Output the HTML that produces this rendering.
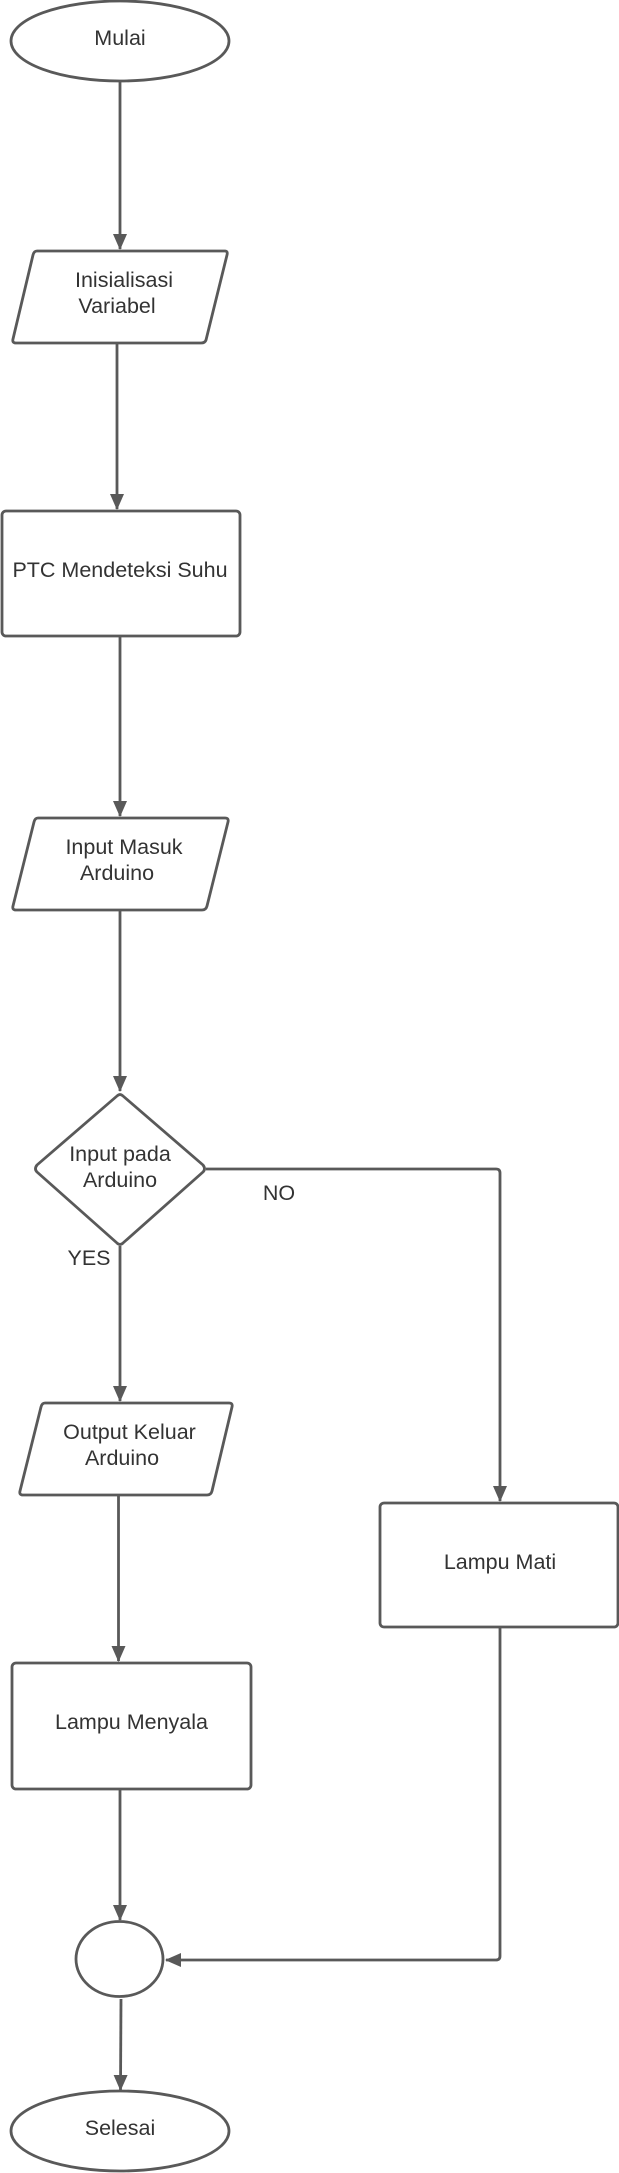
<!DOCTYPE html>
<html><head><meta charset="utf-8"><style>
html,body{margin:0;padding:0;background:#fff}
svg{display:block}
text{font-family:"Liberation Sans",sans-serif;font-size:21.5px;fill:#333;text-anchor:middle;dominant-baseline:central}
</style></head><body>
<svg width="619" height="2173" viewBox="0 0 619 2173" xmlns="http://www.w3.org/2000/svg">
<defs><marker id="a" markerWidth="16" markerHeight="16" refX="15" refY="7" orient="auto" markerUnits="userSpaceOnUse"><path d="M0,0 L16,7 L0,14 z" fill="#595959"/></marker></defs>
<g fill="none" stroke="#595959" stroke-width="2.8" stroke-linejoin="round">
<ellipse cx="120" cy="41" rx="109" ry="40" fill="#fff"/>
<path d="M37,251 L225,251 Q228,251 227,255 L206,340 Q205,343 201,343 L16,343 Q12,343 13,339 L33,255 Q34,251 37,251 Z" fill="#fff"/>
<rect x="2" y="511" width="238" height="125" rx="4" fill="#fff"/>
<path d="M38,818 L225,818 Q229,818 228,822 L207,906 Q206,910 202,910 L16,910 Q12,910 13,906 L34,822 Q35,818 38,818 Z" fill="#fff"/>
<path d="M117,1096 Q120,1093 123,1096 L203,1165 Q206,1169 203,1172 L123,1243 Q120,1246 117,1243 L37,1172 Q34,1169 37,1165 Z" fill="#fff"/>
<path d="M45,1403 L229,1403 Q233,1403 232,1407 L212,1491 Q211,1495 207,1495 L23,1495 Q19,1495 20,1491 L41,1407 Q42,1403 45,1403 Z" fill="#fff"/>
<rect x="380" y="1503" width="238" height="124" rx="4" fill="#fff"/>
<rect x="12" y="1663" width="239" height="126" rx="4" fill="#fff"/>
<ellipse cx="119.5" cy="1959" rx="43.5" ry="37.5" fill="#fff"/>
<ellipse cx="120" cy="2131" rx="109" ry="40" fill="#fff"/>
<line x1="120" y1="82" x2="120" y2="249" marker-end="url(#a)"/>
<line x1="117" y1="343" x2="117" y2="509" marker-end="url(#a)"/>
<line x1="120" y1="636" x2="120" y2="816" marker-end="url(#a)"/>
<line x1="120" y1="910" x2="120" y2="1091" marker-end="url(#a)"/>
<line x1="120" y1="1246" x2="120" y2="1401" marker-end="url(#a)"/>
<path d="M206,1169 L496,1169 Q500,1169 500,1173 L500,1501" marker-end="url(#a)"/>
<line x1="118.5" y1="1495" x2="118.5" y2="1661" marker-end="url(#a)"/>
<line x1="120" y1="1789" x2="120" y2="1920" marker-end="url(#a)"/>
<path d="M500,1627 L500,1956 Q500,1960 496,1960 L166,1960" marker-end="url(#a)"/>
<line x1="121" y1="1999" x2="120.5" y2="2090" marker-end="url(#a)"/>
</g>
<text x="120" y="38">Mulai</text>
<text x="124" y="280">Inisialisasi</text>
<text x="117" y="306">Variabel</text>
<text x="120" y="570">PTC Mendeteksi Suhu</text>
<text x="124" y="847">Input Masuk</text>
<text x="117" y="873">Arduino</text>
<text x="120" y="1154">Input pada</text>
<text x="120" y="1180">Arduino</text>
<text x="279" y="1193">NO</text>
<text x="89" y="1258">YES</text>
<text x="129.5" y="1432">Output Keluar</text>
<text x="122" y="1458">Arduino</text>
<text x="500" y="1562">Lampu Mati</text>
<text x="131.5" y="1722">Lampu Menyala</text>
<text x="120" y="2128">Selesai</text>
</svg>
</body></html>
